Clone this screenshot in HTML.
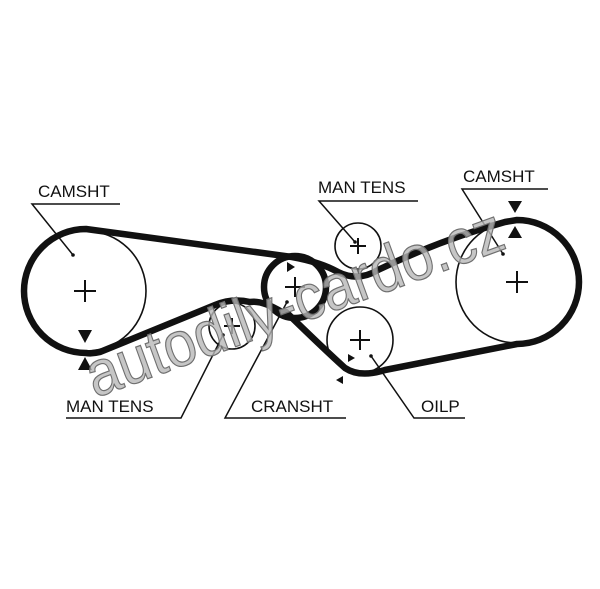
<!DOCTYPE html>
<html><head><style>
html,body{margin:0;padding:0;background:#fff;}
svg{display:block;}
text{font-family:"Liberation Sans",sans-serif;}
</style></head><body>
<svg width="600" height="589" viewBox="0 0 600 589" xmlns="http://www.w3.org/2000/svg">
<rect width="600" height="589" fill="#fff"/>
<g fill="none" stroke="#111" stroke-width="1.6">
<circle cx="86" cy="291" r="60"/>
<circle cx="517" cy="282" r="61"/>
<circle cx="358" cy="246" r="23"/>
<circle cx="360" cy="340" r="33"/>
<circle cx="232" cy="326" r="23"/>
</g>
<path d="M86 229 L292 257 Q320 262 338 272 Q358 282 378 270 Q440 240 505 222 Q517 220 517 220 A62 62 0 0 1 517 344 L385 370 Q360 378 345 368 Q325 350 286 312 L282 312 Q262 300 250 302 Q232 298 215 305 L100 352 Q92 354 86 353 A62 62 0 0 1 86 229 Z" fill="none" stroke="#111" stroke-width="6.5" stroke-linejoin="round"/>
<circle cx="295" cy="287" r="31" fill="none" stroke="#111" stroke-width="6.5"/>
<g stroke="#111" stroke-width="2">
<path d="M74 291h22M85 280v22"/>
<path d="M506 282h22M517 271v22"/>
<path d="M350 246h16M358 238v16"/>
<path d="M350 340h20M360 330v20"/>
<path d="M224 326h16M232 318v16"/>
<path d="M285 287h20M295 277v20"/>
</g>
<g fill="#111">
<polygon points="78,330 92,330 85,343"/>
<polygon points="78,370 92,370 85,357"/>
<polygon points="508,201 522,201 515,213"/>
<polygon points="508,238 522,238 515,226"/>
<polygon points="287,262 287,272 295,267"/>
<polygon points="348,354 348,362 355,358"/>
<polygon points="343,376 343,384 336,380"/>
</g>
<g fill="#111" font-size="17">
<text x="38" y="197">CAMSHT</text>
<text x="318" y="193">MAN TENS</text>
<text x="463" y="182">CAMSHT</text>
<text x="66" y="412">MAN TENS</text>
<text x="251" y="412">CRANSHT</text>
<text x="421" y="412">OILP</text>
</g>
<g stroke="#111" stroke-width="1.5" fill="none">
<path d="M120 204H32L73 255"/>
<path d="M418 201H319L355 242"/>
<path d="M548 189H462L503 254"/>
<path d="M66 418H181L223 335"/>
<path d="M346 418H225L287 302"/>
<path d="M465 418H414L371 356"/>
</g>
<g fill="#111"><circle cx="73" cy="255" r="1.8"/><circle cx="355" cy="242" r="1.8"/><circle cx="503" cy="254" r="1.8"/><circle cx="223" cy="335" r="1.8"/><circle cx="287" cy="302" r="1.8"/><circle cx="371" cy="356" r="1.8"/></g>
<text x="0" y="0" transform="translate(95,398) rotate(-20)" font-size="64" fill="#b8b8b8" fill-opacity="0.8" stroke="#6f6f6f" stroke-width="1.2" textLength="440" lengthAdjust="spacingAndGlyphs">autodily-cardo.cz</text>
</svg>
</body></html>
